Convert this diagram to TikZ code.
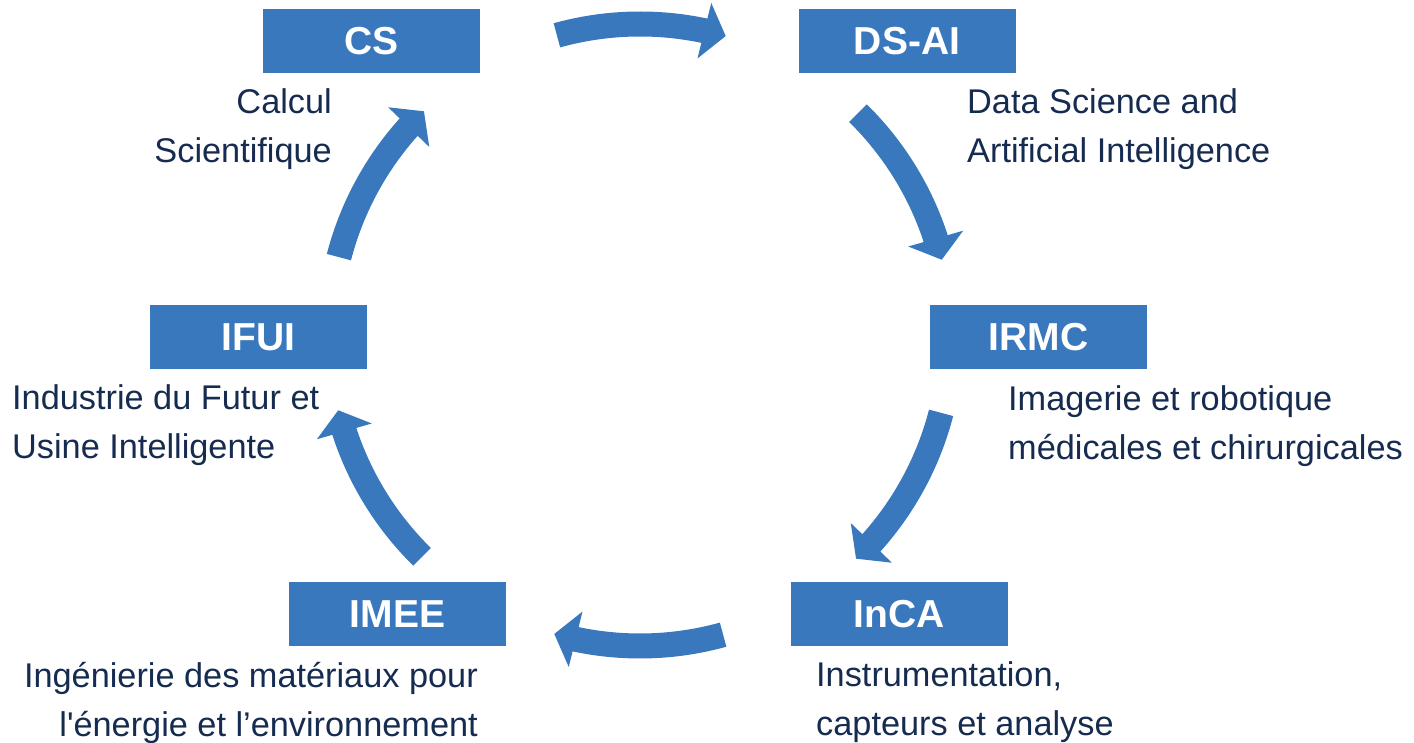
\documentclass[tikz,border=0pt]{standalone}
\usepackage{fontspec}
\setmainfont{Liberation Sans}[Ligatures=TeXOff]
\usetikzlibrary{arrows.meta, bending}

\definecolor{boxblue}{RGB}{58,120,190}
\definecolor{navy}{RGB}{22,43,80}

\tikzset{
  team/.style={fill=boxblue, text=white, font=\fontsize{39}{39}\selectfont\bfseries,
    minimum width=217pt, minimum height=64pt, inner sep=0pt},
  caption/.style={text=navy, font=\fontsize{34.3}{49}\selectfont, inner sep=0pt},
  cyclearrow/.style={boxblue, line width=25pt, -{Triangle[width=56pt, length=22pt]}}
}

\begin{document}
\begin{tikzpicture}[x=1pt, y=1pt]
    \useasboundingbox (0,0) rectangle (1414,743);
    % Centre of the cycle
    \coordinate (O) at (640,408);
    % Curved arrows between the teams
    \foreach \a in {90,30,...,-210}
    {
        \draw[cyclearrow] (O) ++(\a+15.5:311pt) arc[start angle=\a+15.5, end angle=\a-16, radius=311pt];
    }
    % Teams
    \node[team] (cs) at (371.5,702) {CS};
    \node[team] (dsai) at (907,702) {DS-AI};
    \node[team] (irmc) at (1038.5,406) {IRMC};
    \node[team] (inca) at (899,129) {InCA};
    \node[team] (imee) at (397.5,129) {IMEE};
    \node[team] (ifui) at (258.5,406) {IFUI};
    % Descriptions
    \node[caption, anchor=north east, align=right] (cs-text) at (332,655) {Calcul\\Scientifique};
    \node[caption, anchor=north west, align=left] (dsai-text) at (967,655) {Data Science and\\Artificial Intelligence};
    \node[caption, anchor=north west, align=left] (irmc-text) at (1008,358) {Imagerie et robotique\\médicales et chirurgicales};
    \node[caption, anchor=north west, align=left] (inca-text) at (816,82) {Instrumentation,\\capteurs et analyse};
    \node[caption, anchor=north east, align=right] (imee-text) at (478,81) {Ingénierie des matériaux pour\\l'énergie et l’environnement};
    \node[caption, anchor=north west, align=left] (ifui-text) at (12,359) {Industrie du Futur et\\Usine Intelligente};
\end{tikzpicture}
\end{document}
